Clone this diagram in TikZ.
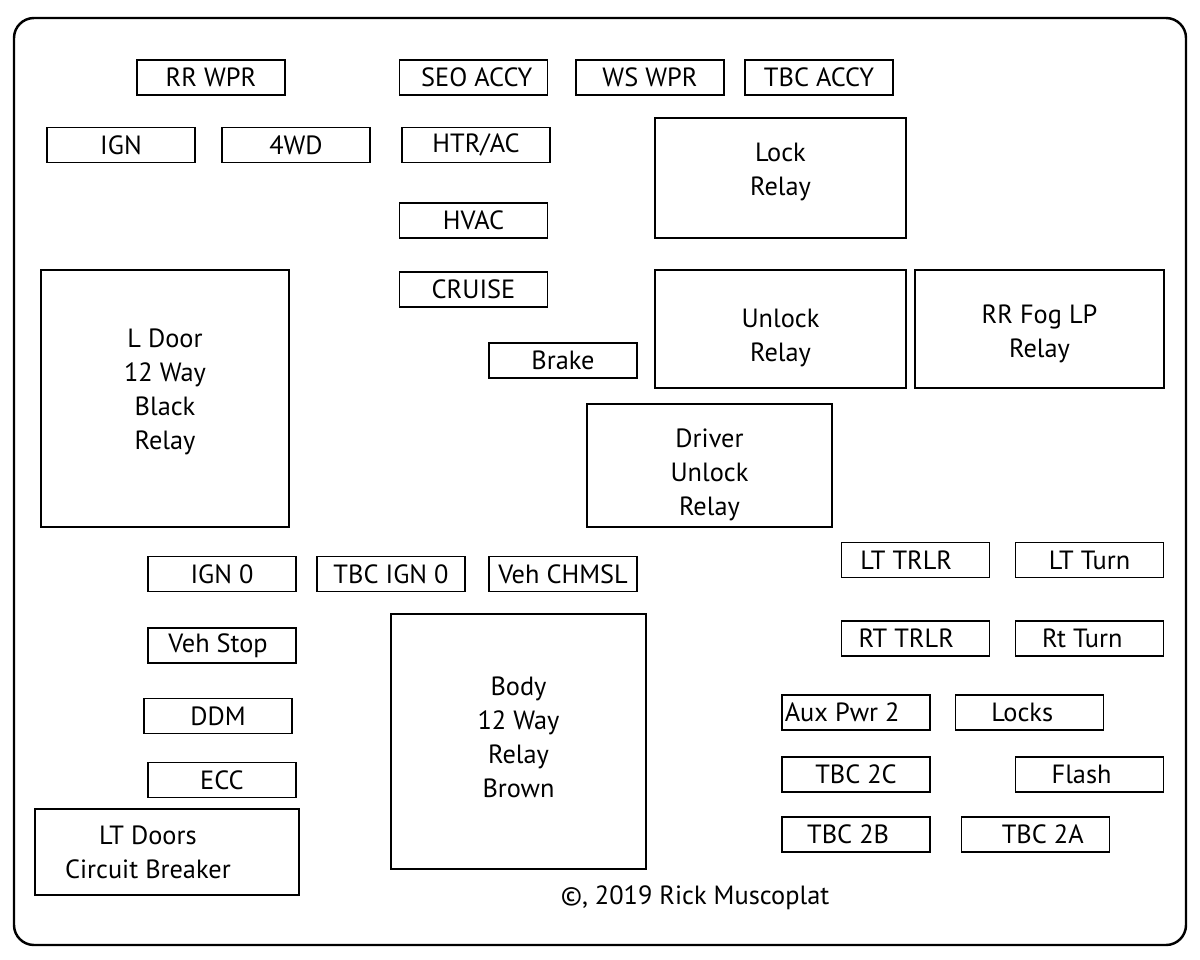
\documentclass[tikz,border=0pt]{standalone}
\usepackage{fontspec}
\setmainfont{PT Sans}
\begin{document}
\begin{tikzpicture}[x=0.02cm, y=-0.02cm,
    fuse/.style={draw, line width=1.1pt, minimum width=2.96cm, minimum height=0.7cm, inner sep=0pt, font=\fontsize{15}{19.4}\selectfont},
    relay/.style={draw, line width=1.1pt, inner sep=0pt, align=center, font=\fontsize{15}{19.4}\selectfont}]
    \useasboundingbox[fill=white] (0,0) rectangle (1200,960);
    \draw[line width=1.4pt, rounded corners=0.4cm] (14,18) rectangle (1186,945);

    \node[fuse] (RRWPR) at (211,77.5){RR WPR};
    \node[fuse] (SEOACCY) at (473.5,77.5){\hspace*{0.25em}SEO ACCY};
    \node[fuse] (WSWPR) at (650,77.5){WS WPR};
    \node[fuse] (TBCACCY) at (819,77.5){TBC ACCY};
    \node[fuse] (IGN) at (121,145){IGN};
    \node[fuse] (4WD) at (296,145){4WD};
    \node[fuse] (HTRAC) at (476,145){HTR/AC};
    \node[fuse] (HVAC) at (473.5,220.5){HVAC};
    \node[fuse] (CRUISE) at (473.5,289.5){CRUISE};
    \node[fuse] (Brake) at (563,360.5){Brake};

    \node[fuse] (IGN0) at (222,574){IGN 0};
    \node[fuse] (TBCIGN0) at (391,574){TBC IGN 0};
    \node[fuse] (VehCHMSL) at (563,574){Veh CHMSL};
    \node[fuse] (VehStop) at (222,645.5){Veh Stop\hspace*{0.3em}};
    \node[fuse] (DDM) at (218,716){DDM};
    \node[fuse] (ECC) at (222,780){ECC};

    \node[fuse] (LTTRLR) at (915.5,560){LT TRLR\hspace*{0.7em}};
    \node[fuse] (LTTurn) at (1089.5,560){LT Turn};
    \node[fuse] (RTTRLR) at (915.5,638.5){RT TRLR\hspace*{0.7em}};
    \node[fuse] (RtTurn) at (1089.5,638.5){Rt Turn\hspace*{0.55em}};
    \node[fuse] (AuxPwr) at (856,712.5){Aux Pwr 2\hspace*{1.05em}};
    \node[fuse] (Locks) at (1029.5,712.5){Locks\hspace*{0.55em}};
    \node[fuse] (TBC2C) at (856,774.5){TBC 2C};
    \node[fuse] (Flash) at (1089.5,774.5){Flash\hspace*{0.6em}};
    \node[fuse] (TBC2B) at (856,834.5){TBC 2B\hspace*{0.6em}};
    \node[fuse] (TBC2A) at (1035.5,834.5){\hspace*{0.55em}TBC 2A};

    \node[relay, minimum width=5.02cm, minimum height=2.4cm] (LockRelay) at (780.5,178){Lock\\Relay\\[-0.6em]};
    \node[relay, minimum width=4.96cm, minimum height=5.14cm] (LDoor) at (165,398.5){L Door\\12 Way\\Black\\Relay\\[-0.6em]};
    \node[relay, minimum width=5.02cm, minimum height=2.36cm] (UnlockRelay) at (780.5,329){\\[0.1em]Unlock\\Relay};
    \node[relay, minimum width=4.98cm, minimum height=2.36cm] (RRFog) at (1039.5,329){\\[-0.2em]RR Fog LP\\Relay};
    \node[relay, minimum width=4.9cm, minimum height=2.46cm] (DriverUnlock) at (709.5,465.5){\\[0.1em]Driver\\Unlock\\Relay};
    \node[relay, minimum width=5.1cm, minimum height=5.1cm] (Body) at (518.5,741.5){Body\\12 Way\\Relay\\Brown\\[-0.95em]};
    \node[relay, minimum width=5.28cm, minimum height=1.72cm] (LTDoors) at (167,852){LT Doors\hspace*{1.45em}\\Circuit Breaker\hspace*{1.45em}};

    \node[font=\fontsize{15}{19.4}\selectfont] (copy) at (695,898){©, 2019 Rick Muscoplat};
\end{tikzpicture}
\end{document}
